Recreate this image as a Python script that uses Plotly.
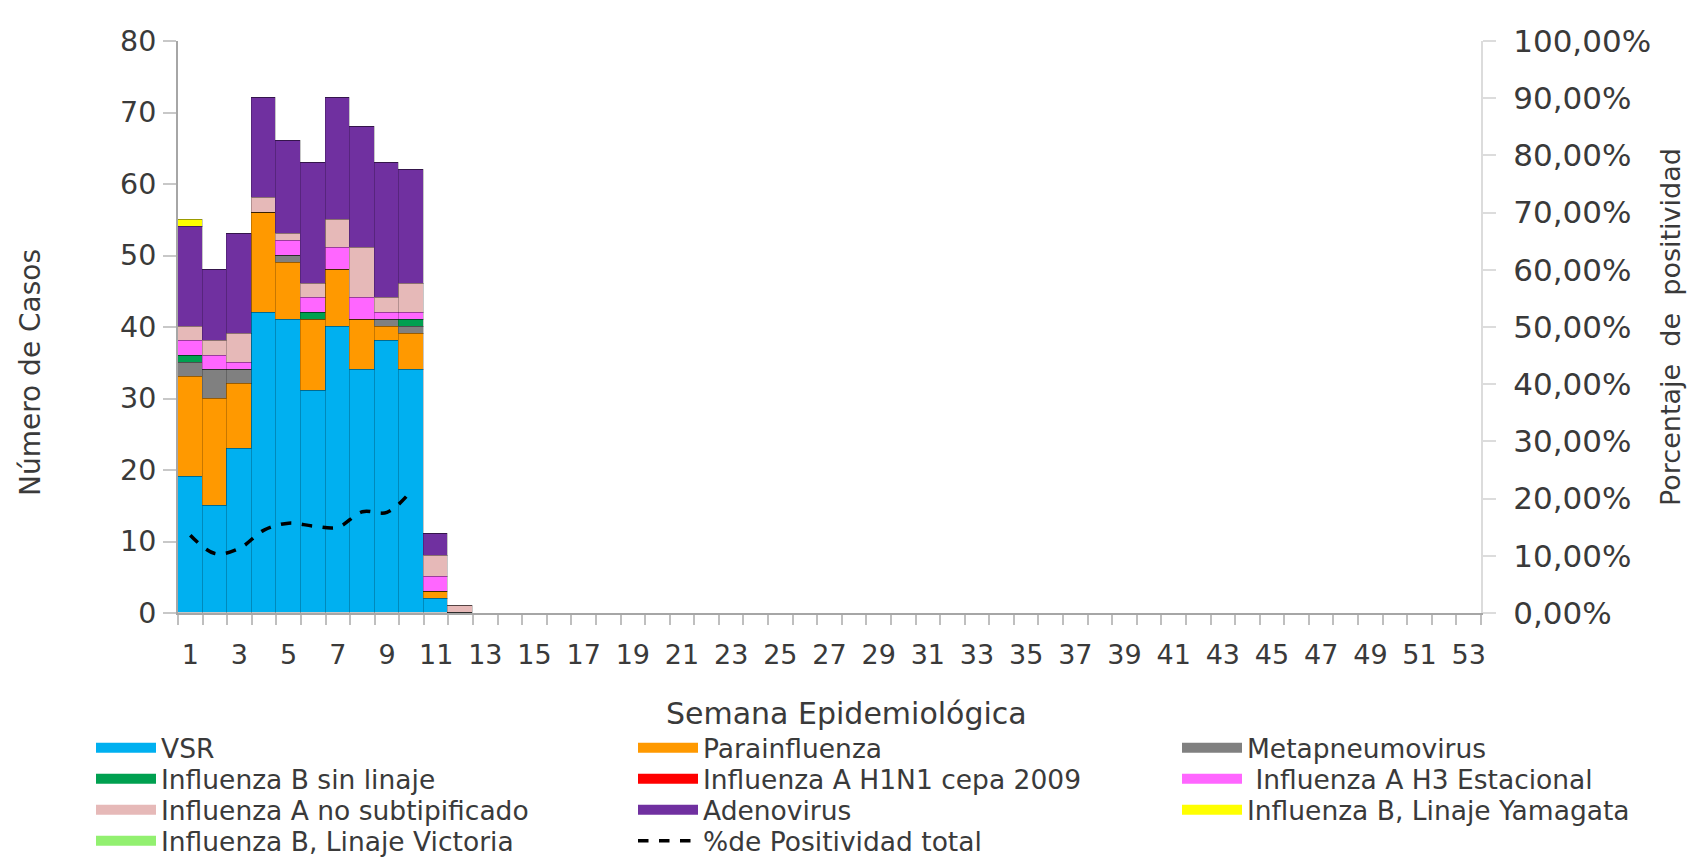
import plotly.graph_objects as go

# ---------------- data ----------------
weeks = list(range(1, 54))                 # semanas epidemiológicas (eje X)
bar_weeks = list(range(1, 13))             # semanas con datos
vsr          = [19, 15, 23, 42, 41, 31, 40, 34, 38, 34, 2, 0]
parainfl     = [14, 15, 9, 14, 8, 10, 8, 7, 2, 5, 1, 0]
metapneumo   = [2, 4, 2, 0, 1, 0, 0, 0, 1, 1, 0, 0]
flu_b_sinlin = [1, 0, 0, 0, 0, 1, 0, 0, 0, 1, 0, 0]
h1n1_2009    = [0, 0, 0, 0, 0, 0, 0, 0, 0, 0, 0, 0]
h3_estac     = [2, 2, 1, 0, 2, 2, 3, 3, 1, 1, 2, 0]
a_no_subtip  = [2, 2, 4, 2, 1, 2, 4, 7, 2, 4, 3, 1]
adenovirus   = [14, 10, 14, 14, 13, 17, 17, 17, 19, 16, 3, 0]
b_yamagata   = [1, 0, 0, 0, 0, 0, 0, 0, 0, 0, 0, 0]
b_victoria   = [0, 0, 0, 0, 0, 0, 0, 0, 0, 0, 0, 0]
pos_weeks    = list(range(1, 11))
positividad  = [13.6, 10.4, 11.3, 14.5, 15.7, 15.2, 15.0, 17.7, 17.6, 21.4]  # %
x_tick_vals   = [w for w in weeks if w % 2 == 1]
x_tick_labels = [str(w) for w in x_tick_vals]

series = [
    ("VSR", vsr, "#00B0F0"),
    ("Parainfluenza", parainfl, "#FF9900"),
    ("Metapneumovirus", metapneumo, "#808080"),
    ("Influenza B sin linaje", flu_b_sinlin, "#00A050"),
    ("Influenza A H1N1 cepa 2009", h1n1_2009, "#FF0000"),
    (" Influenza A H3 Estacional", h3_estac, "#FF66FF"),
    ("Influenza A no subtipificado", a_no_subtip, "#E6B9B8"),
    ("Adenovirus", adenovirus, "#7030A0"),
    ("Influenza B, Linaje Yamagata", b_yamagata, "#FFFF00"),
    ("Influenza B, Linaje Victoria", b_victoria, "#92F070"),
]

# ---------------- geometry (page has an 8px body margin) ----------------
OFF = 8
W, H = 1680, 850
ML, MR, MT, MB = 170, 207, 33, 245
PW, PH = W - ML - MR, H - MT - MB
def px(xs): return (xs - OFF - ML) / PW           # screen px -> paper x
def py(ys): return (H - MB - (ys - OFF)) / PH      # screen px -> paper y

FONT = "DejaVu Sans"
TXT = "#3a3a3a"

fig = go.Figure()
for name, vals, col in series:
    fig.add_trace(go.Bar(
        x=bar_weeks, y=vals, name=name, showlegend=False,
        marker=dict(color=col, line=dict(color="rgba(0,0,0,0.22)", width=1.5)),
    ))

fig.add_trace(go.Scatter(
    x=pos_weeks, y=[v / 100 for v in positividad], yaxis="y2",
    mode="lines", line=dict(color="black", width=3.5, dash="dash", shape="spline"),
    name="%de Positividad total", showlegend=True, legend="legend11",
))

# legend entries: one legend box per cell to reproduce the 3-column grid
col_x = [91, 633, 1177]
row_y = [748, 779, 810, 841]
LEGFONT = dict(family=FONT, size=26.5, color=TXT)
legend_layout = {}
for i, (name, vals, col) in enumerate(series):
    lid = "legend" if i == 0 else f"legend{i+1}"
    fig.add_trace(go.Scatter(
        x=[None], y=[None], mode="lines", name=name,
        line=dict(color=col, width=14), showlegend=True, legend=lid,
    ))
    r, c = divmod(i, 3)
    legend_layout[lid] = dict(
        x=px(col_x[c]), y=py(row_y[r]), xanchor="left", yanchor="middle",
        font=LEGFONT, bgcolor="rgba(0,0,0,0)", itemwidth=60,
    )
legend_layout["legend11"] = dict(
    x=px(col_x[1]), y=py(row_y[3]), xanchor="left", yanchor="middle",
    font=LEGFONT, bgcolor="rgba(0,0,0,0)", itemwidth=60,
)

fig.update_layout(
    width=W, height=H,
    margin=dict(l=ML, r=MR, t=MT, b=MB, autoexpand=False),
    paper_bgcolor="white", plot_bgcolor="white",
    barmode="stack", bargap=0,
    separators=",.",
    font=dict(family=FONT, color=TXT),
    xaxis=dict(
        range=[0.5, 53.5], tickmode="array", tickvals=x_tick_vals,
        ticktext=x_tick_labels, ticks="", showgrid=False, zeroline=False,
        showline=True, linecolor="#a6a6a6", linewidth=2,
        tickfont=dict(family=FONT, size=27, color=TXT),
        minor=dict(tick0=0.5, dtick=1, ticks="outside", ticklen=10,
                   tickcolor="#bfbfbf", tickwidth=2, showgrid=False),
        ticklabelstandoff=17,
    ),
    yaxis=dict(
        range=[0, 80], dtick=10, showgrid=False, zeroline=False,
        showline=True, linecolor="#a6a6a6", linewidth=2,
        ticks="outside", ticklen=13, tickcolor="#c8c8c8", tickwidth=2,
        tickfont=dict(family=FONT, size=28.5, color=TXT), ticklabelstandoff=1,
    ),
    yaxis2=dict(
        range=[0, 1], dtick=0.1, tickformat=".2%", overlaying="y", side="right",
        showgrid=False, zeroline=False, showline=True, linecolor="#dcdcdc", linewidth=2,
        ticks="outside", ticklen=13, tickcolor="#dcdcdc", tickwidth=2,
        tickfont=dict(family=FONT, size=31, color=TXT), ticklabelstandoff=11,
    ),
    annotations=[
        dict(text="Número de Casos", x=px(30), y=py(373), xref="paper", yref="paper",
             xanchor="center", yanchor="middle",
             textangle=-90, showarrow=False, font=dict(family=FONT, size=28, color=TXT)),
        dict(text="Porcentaje  de  positividad", x=px(1670), y=py(327), xref="paper", yref="paper",
             xanchor="center", yanchor="middle",
             textangle=-90, showarrow=False, font=dict(family=FONT, size=27, color=TXT)),
        dict(text="Semana Epidemiológica", x=px(846), y=py(713), xref="paper", yref="paper",
             xanchor="center", yanchor="middle",
             showarrow=False, font=dict(family=FONT, size=30, color=TXT)),
    ],
    **legend_layout,
)

fig.write_html("out.html")
